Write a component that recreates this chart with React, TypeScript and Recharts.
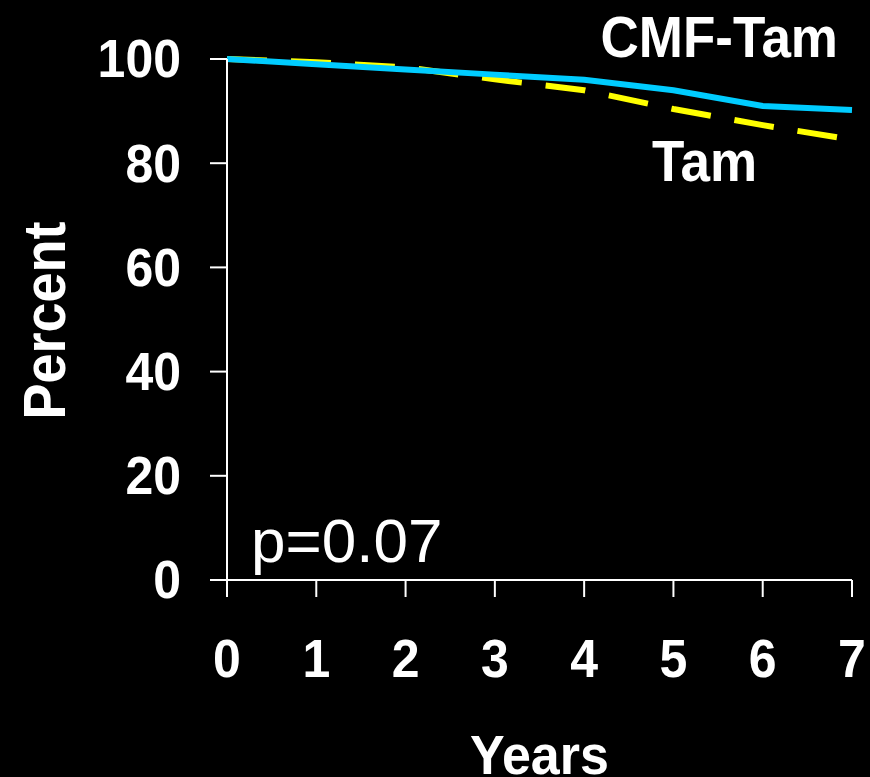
import React from "react";
import { LineChart, Line, XAxis, YAxis } from "recharts";

const years = [0, 1, 2, 3, 4, 5, 6, 7];
const cmfTam = [100, 99.0, 98.0, 97.0, 96.0, 94.0, 91.0, 90.2];
const tam = [100, 99.4, 98.4, 96.1, 94.0, 90.4, 87.3, 84.5];
const yTicks = [0, 20, 40, 60, 80, 100];
const xTicks = [0, 1, 2, 3, 4, 5, 6, 7];

const data = years.map((y, i) => ({ year: y, cmfTam: cmfTam[i], tam: tam[i] }));

const FONT = "Arial, 'Liberation Sans', Helvetica, sans-serif";
const SY = 1.08;

const BoldText = ({ x, y, anchor, size, children, rotate = 0, dy }: any) => (
  <text
    x={0}
    y={0}
    dy={dy}
    transform={`translate(${x}, ${y}) rotate(${rotate}) scale(1, ${SY})`}
    textAnchor={anchor}
    fill="#fff"
    fontFamily={FONT}
    fontWeight="bold"
    fontSize={size}
  >
    {children}
  </text>
);

const YTick = (props: any) => {
  const { x, y, payload } = props;
  return (
    <BoldText x={x - 27} y={y} dy="0.34em" anchor="end" size={50}>
      {payload.value}
    </BoldText>
  );
};

const XTick = (props: any) => {
  const { x, y, payload } = props;
  return (
    <BoldText x={x} y={y + 78} anchor="middle" size={50}>
      {payload.value}
    </BoldText>
  );
};

const XLabel = (props: any) => {
  const vb = props.viewBox || {};
  return (
    <BoldText x={vb.x + vb.width / 2} y={vb.y + 194} anchor="middle" size={52}>
      Years
    </BoldText>
  );
};

const YLabel = (props: any) => {
  const vb = props.viewBox || {};
  const cx = 65;
  const cy = vb.y + vb.height / 2 + 1;
  return (
    <BoldText x={cx} y={cy} rotate={-90} anchor="middle" size={54}>
      Percent
    </BoldText>
  );
};

export default function App() {
  return (
    <div style={{ position: "absolute", left: 0, top: 0, width: 870, height: 777, background: "#000", overflow: "hidden" }}>
      <style>{`body{margin:0;background:#000;}`}</style>
      <LineChart width={870} height={777} data={data} margin={{ top: 59, right: 18, bottom: 0, left: 0 }}>
        <XAxis
          dataKey="year"
          type="number"
          domain={[0, 7]}
          ticks={xTicks}
          height={197}
          stroke="#fff"
          strokeWidth={2}
          tickSize={17}
          tick={<XTick />}
          tickLine={{ stroke: "#fff", strokeWidth: 2 }}
          label={<XLabel />}
          interval={0}
        />
        <YAxis
          type="number"
          domain={[0, 100]}
          ticks={yTicks}
          width={227}
          stroke="#fff"
          strokeWidth={2}
          tickSize={17}
          tick={<YTick />}
          tickLine={{ stroke: "#fff", strokeWidth: 2 }}
          label={<YLabel />}
          interval={0}
        />
        <Line
          type="linear"
          dataKey="tam"
          stroke="#FFFF00"
          strokeWidth={6}
          strokeDasharray="40 24"
          dot={false}
          isAnimationActive={false}
        />
        <Line
          type="linear"
          dataKey="cmfTam"
          stroke="#00CCFF"
          strokeWidth={6}
          dot={false}
          isAnimationActive={false}
        />
      </LineChart>
      <svg width={870} height={777} style={{ position: "absolute", left: 0, top: 0, pointerEvents: "none" }}>
        <BoldText x={838} y={57} anchor="end" size={53}>
          CMF-Tam
        </BoldText>
        <BoldText x={652} y={181} anchor="start" size={53}>
          Tam
        </BoldText>
        <text x={251} y={562} textAnchor="start" fill="#fff" fontFamily={FONT} fontSize={62}>
          p=0.07
        </text>
      </svg>
    </div>
  );
}
